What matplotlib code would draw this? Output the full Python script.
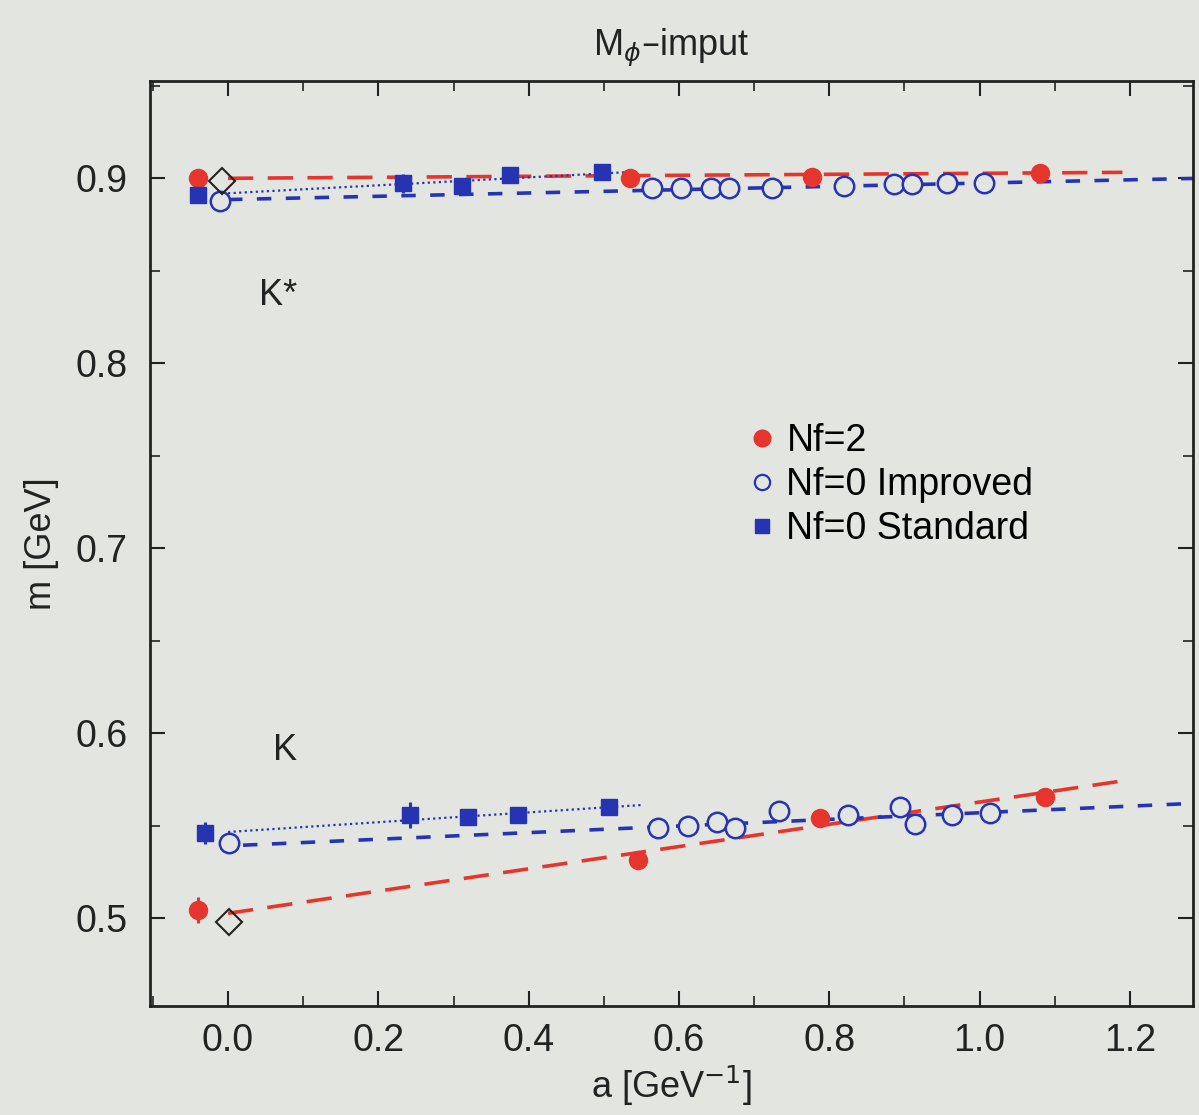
import numpy as np
import matplotlib
matplotlib.use("Agg")
import matplotlib.pyplot as plt
from matplotlib.lines import Line2D
from matplotlib.ticker import MultipleLocator

# ---- K* (vector meson) ----
kstar_nf2_a = [-0.040, 0.535, 0.777, 1.080]
kstar_nf2_m = [0.900, 0.9005, 0.901, 0.9032]
kstar_nf2_err = [0.003, 0.002, 0.002, 0.002]

kstar_imp_a = [-0.011, 0.564, 0.603, 0.643, 0.667, 0.724, 0.820, 0.886, 0.910, 0.957, 1.006]
kstar_imp_m = [0.888, 0.8946, 0.8946, 0.8946, 0.8946, 0.8950, 0.8957, 0.8970, 0.8970, 0.8973, 0.8975]

kstar_std_a = [-0.040, 0.233, 0.311, 0.375, 0.498]
kstar_std_m = [0.891, 0.8973, 0.896, 0.902, 0.9035]
kstar_std_err = [0.004, 0.005, 0.003, 0.002, 0.002]

# ---- K (pseudoscalar meson) ----
k_nf2_a = [-0.040, 0.546, 0.788, 1.087]
k_nf2_m = [0.5045, 0.5314, 0.554, 0.5654]
k_nf2_err = [0.007, 0.002, 0.002, 0.002]

k_imp_a = [0.001, 0.572, 0.612, 0.651, 0.675, 0.733, 0.825, 0.894, 0.914, 0.963, 1.014]
k_imp_m = [0.5405, 0.5486, 0.5497, 0.552, 0.5486, 0.558, 0.5557, 0.560, 0.5508, 0.5557, 0.5568]

k_std_a = [-0.031, 0.242, 0.319, 0.386, 0.507]
k_std_m = [0.546, 0.5557, 0.5546, 0.5557, 0.560]
k_std_err = [0.006, 0.007, 0.003, 0.003, 0.002]

# experimental values
exp_a = [-0.008, 0.001]
exp_m = [0.8985, 0.4978]

# continuum fits: (a_start, a_end, intercept, slope)
fit_kstar_nf2 = (0.00, 1.19, 0.9001, 0.0027)
fit_kstar_imp = (0.00, 1.30, 0.8886, 0.0089)
fit_kstar_std = (0.00, 0.54, 0.8920, 0.0215)
fit_k_nf2 = (0.00, 1.195, 0.5025, 0.0602)
fit_k_imp = (0.02, 1.30, 0.5390, 0.0179)
fit_k_std = (0.00, 0.55, 0.5465, 0.0265)

RED = "#e5352c"
BLUE = "#2634b4"
BG = "#e3e5e0"
INK = "#222222"

plt.rcParams["font.family"] = ["Liberation Sans", "DejaVu Sans"]

fig = plt.figure(figsize=(11.99, 11.15), dpi=100, facecolor=BG)
ax = fig.add_axes([0.1251, 0.0978, 0.870, 0.830], facecolor=BG)


def fit_line(spec, **kw):
    a0, a1, c, s = spec
    xs = np.array([a0, a1])
    ax.plot(xs, c + s * xs, **kw)


for spec in (fit_kstar_nf2, fit_k_nf2):
    fit_line(spec, color=RED, lw=2.6, dashes=(7, 4), zorder=2)
for spec in (fit_kstar_imp, fit_k_imp):
    fit_line(spec, color=BLUE, lw=2.6, dashes=(4, 4), zorder=2)
for spec in (fit_kstar_std, fit_k_std):
    fit_line(spec, color=BLUE, lw=1.6, dashes=(1, 1.5), zorder=2)

ekw = dict(linestyle="none", capsize=0, elinewidth=2.2, zorder=4)
ax.errorbar(kstar_nf2_a, kstar_nf2_m, yerr=kstar_nf2_err, marker="o", ms=13,
            color=RED, mec=RED, **ekw)
ax.errorbar(k_nf2_a, k_nf2_m, yerr=k_nf2_err, marker="o", ms=13, color=RED, mec=RED, **ekw)

ax.plot(kstar_imp_a, kstar_imp_m, linestyle="none", marker="o", ms=14, mfc=BG,
        mec=BLUE, mew=1.8, zorder=3)
ax.plot(k_imp_a, k_imp_m, linestyle="none", marker="o", ms=14, mfc=BG,
        mec=BLUE, mew=1.8, zorder=3)

ax.errorbar(kstar_std_a, kstar_std_m, yerr=kstar_std_err, marker="s", ms=12,
            color=BLUE, mec=BLUE, **ekw)
ax.errorbar(k_std_a, k_std_m, yerr=k_std_err, marker="s", ms=12, color=BLUE, mec=BLUE, **ekw)

ax.plot(exp_a, exp_m, linestyle="none", marker="D", ms=13, mfc="none", mec=INK,
        mew=1.5, zorder=5)

ax.text(0.0665, 0.8368, "K*", fontsize=26, ha="center", va="center", color=INK)
ax.text(0.076, 0.5908, "K", fontsize=26, ha="center", va="center", color=INK)

ax.set_xlim(-0.1038, 1.284)
ax.set_ylim(0.4524, 0.9530)
ax.set_xticks([0.0, 0.2, 0.4, 0.6, 0.8, 1.0, 1.2])
ax.set_yticks([0.5, 0.6, 0.7, 0.8, 0.9])
ax.xaxis.set_minor_locator(MultipleLocator(0.1))
ax.yaxis.set_minor_locator(MultipleLocator(0.05))
ax.tick_params(which="major", direction="in", length=11, width=1.5, top=True, right=True,
               labelsize=27, colors=INK)
ax.tick_params(which="minor", direction="in", length=7, width=1.2, top=True, right=True,
               colors=INK)
ax.tick_params(axis="x", pad=12)
ax.tick_params(axis="y", pad=16)
for sp in ax.spines.values():
    sp.set_linewidth(2)
    sp.set_color(INK)

ax.set_xlabel("a [GeV$^{-1}$]", fontsize=26, color=INK, labelpad=4)
ax.set_ylabel("m [GeV]", fontsize=26, color=INK, labelpad=12)
ax.set_title("M$_{\\phi}$–imput", fontsize=26, color=INK, pad=18)

handles = [
    Line2D([], [], linestyle="none", marker="o", ms=12, color=RED),
    Line2D([], [], linestyle="none", marker="o", ms=11, mfc="none", mec=BLUE, mew=1.6),
    Line2D([], [], linestyle="none", marker="s", ms=10, color=BLUE),
]
labels = ["Nf=2", "Nf=0 Improved", "Nf=0 Standard"]
ax.legend(handles, labels, loc="upper left", bbox_to_anchor=(0.576, 0.630),
          frameon=False, fontsize=27, handlelength=0.6, handletextpad=0.35,
          labelspacing=0.22, borderpad=0, borderaxespad=0)

fig.savefig("out.png", dpi=100, facecolor=BG)
